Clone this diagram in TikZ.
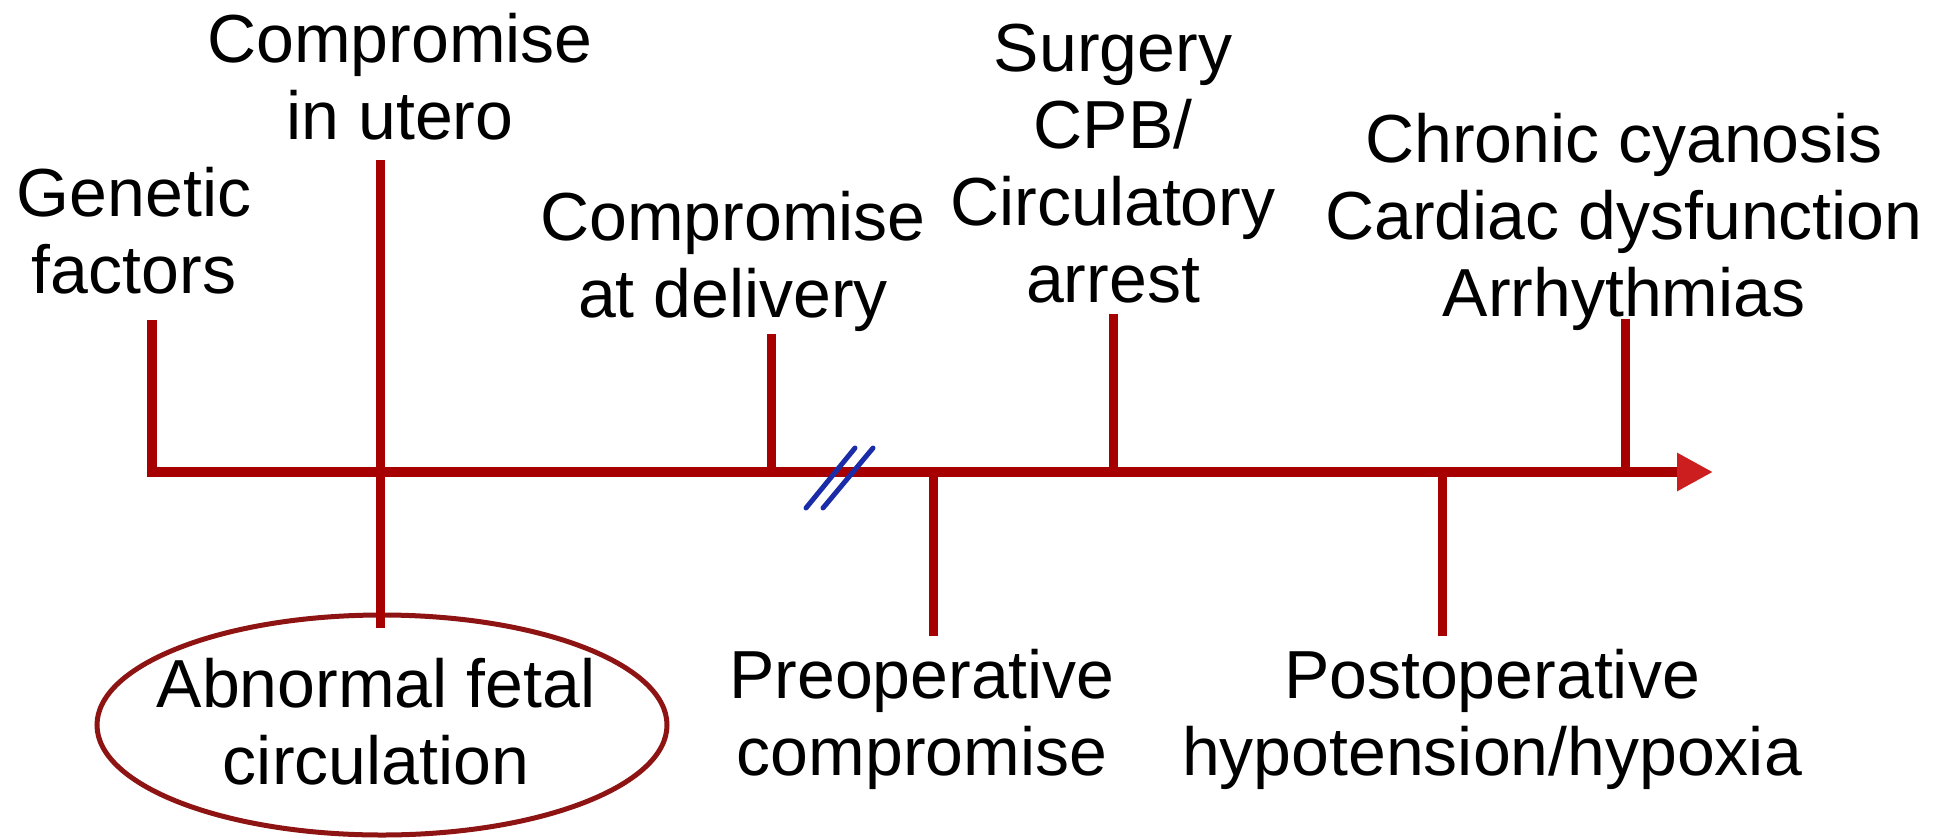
\documentclass[tikz,border=0pt]{standalone}
\usepackage{fontspec}
\setmainfont{Liberation Sans}
\usetikzlibrary{arrows.meta,shapes.geometric}
\definecolor{axisred}{HTML}{A60000}
\definecolor{tipred}{HTML}{CC1E1E}
\definecolor{ellred}{HTML}{8E1414}
\definecolor{breakblue}{HTML}{1A2CA8}
\tikzset{
  lbl/.style={align=center,inner sep=0pt,font=\fontsize{68}{77}\selectfont},
  tickline/.style={draw=axisred,line width=9pt},
  axisline/.style={draw=axisred,line width=10pt,-{Triangle[length=36pt,width=36pt,color=tipred]}},
  brk/.style={draw=breakblue,line width=5pt,line cap=round},
}
\begin{document}
\begin{tikzpicture}[x=1pt,y=-1pt]
\useasboundingbox (0,0) rectangle (1954,838);
% axis points
\coordinate (a0) at (152,472);
\coordinate (aend) at (1713,472);
\coordinate (gtop) at (152,320);
\coordinate (ubot) at (380,628);
\coordinate (utop) at (380,160);
\coordinate (uax) at (380,472);
\coordinate (dtop) at (771,334);
\coordinate (dax) at (771,472);
\coordinate (pax) at (933,472);
\coordinate (pbot) at (933,636);
\coordinate (stop) at (1113,314);
\coordinate (sax) at (1113,472);
\coordinate (qax) at (1442,472);
\coordinate (qbot) at (1442,636);
\coordinate (ctop) at (1625,319);
\coordinate (cax) at (1625,472);
\coordinate (b1s) at (806,508); \coordinate (b1e) at (855,448);
\coordinate (b2s) at (823,508); \coordinate (b2e) at (873,448);

% ellipse
\node[ellipse,draw=ellred,line width=5pt,minimum width=570pt,minimum height=220pt,inner sep=0pt] (ell) at (382,725) {};
\node[lbl] (abn) at (376,722) {Abnormal fetal\\circulation};

% ticks
\draw[tickline] (utop) -- (ubot);
\draw[tickline] (dtop) -- (dax);
\draw[tickline] (pax) -- (pbot);
\draw[tickline] (stop) -- (sax);
\draw[tickline] (qax) -- (qbot);
\draw[tickline] (ctop) -- (cax);
\draw[axisline,line join=miter] (gtop) -- (a0) -- (aend);

% break mark
\draw[brk] (b1s) -- (b1e);
\draw[brk] (b2s) -- (b2e);

% labels
\node[lbl] (gen) at (134,231) {Genetic\\factors};
\node[lbl] (utero) at (400,77) {Compromise\\in utero};
\node[lbl] (deliv) at (733,261) {Compromise\\at delivery};
\node[lbl] (surg) at (1113,164) {Surgery\\CPB/\hspace*{0.28em}\\Circulatory\\arrest};
\node[lbl] (chron) at (1624,222) {Chronic cyanosis\\Cardiac dysfunction\\Arrhythmias};
\node[lbl] (preop) at (922,719) {Preoperative\\compromise};
\node[lbl] (postop) at (1492,719) {Postoperative\\hypotension/hypoxia};
\end{tikzpicture}
\end{document}
